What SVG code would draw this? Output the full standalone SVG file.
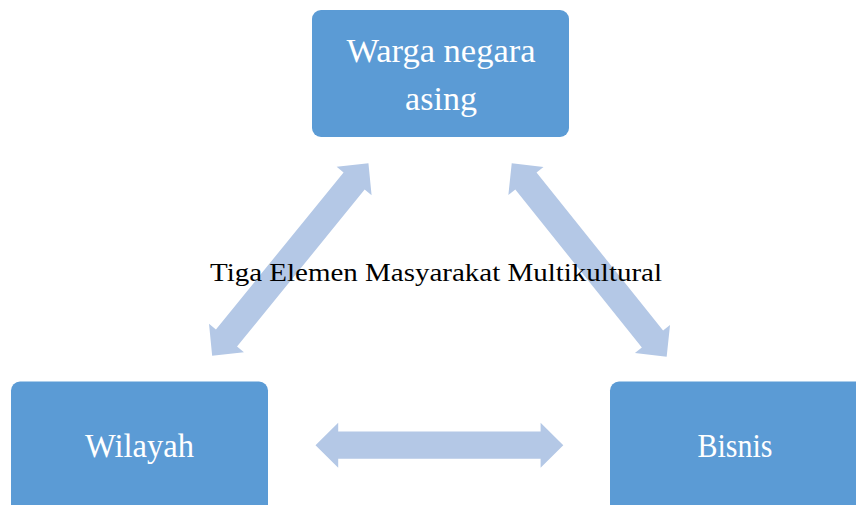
<svg xmlns="http://www.w3.org/2000/svg" width="856" height="505" viewBox="0 0 856 505">
<style>
.box{fill:#5B9BD5;}
.arr{fill:#B4C8E6;}
.lbl{fill:#FFFFFF;font-family:"Liberation Serif","DejaVu Serif",serif;font-size:34px;text-anchor:middle;}
.title{fill:#000000;font-family:"Liberation Serif","DejaVu Serif",serif;font-size:26px;}
</style>
<defs>
<path id="dbl" d="M -123.9 0 L -101.2 -22.5 L -101.2 -13.6 L 101.2 -13.6 L 101.2 -22.5 L 123.9 0 L 101.2 22.5 L 101.2 13.6 L -101.2 13.6 L -101.2 22.5 Z"/>
</defs>
<rect width="856" height="505" fill="#FFFFFF"/>
<g id="connectors">
<use href="#dbl" class="arr" transform="translate(290.3,259.5) rotate(-50.9)"/>
<use href="#dbl" class="arr" transform="translate(589.2,260) rotate(51.3)"/>
<use href="#dbl" class="arr" transform="translate(439.4,445.2)"/>
</g>
<text class="title" x="210" y="281" textLength="452" lengthAdjust="spacingAndGlyphs">Tiga Elemen Masyarakat Multikultural</text>
<g id="node-warga">
<rect class="box" x="312" y="10" width="257" height="127" rx="9"/>
<text class="lbl" x="441" y="62" textLength="189" lengthAdjust="spacingAndGlyphs">Warga negara</text>
<text class="lbl" x="441" y="110">asing</text>
</g>
<g id="node-wilayah">
<rect class="box" x="11" y="381.5" width="257" height="140" rx="9"/>
<text class="lbl" x="139.5" y="457" textLength="109" lengthAdjust="spacingAndGlyphs">Wilayah</text>
</g>
<g id="node-bisnis">
<rect class="box" x="610" y="381.5" width="257" height="140" rx="9"/>
<text class="lbl" x="735" y="457" textLength="75" lengthAdjust="spacingAndGlyphs">Bisnis</text>
</g>
</svg>
